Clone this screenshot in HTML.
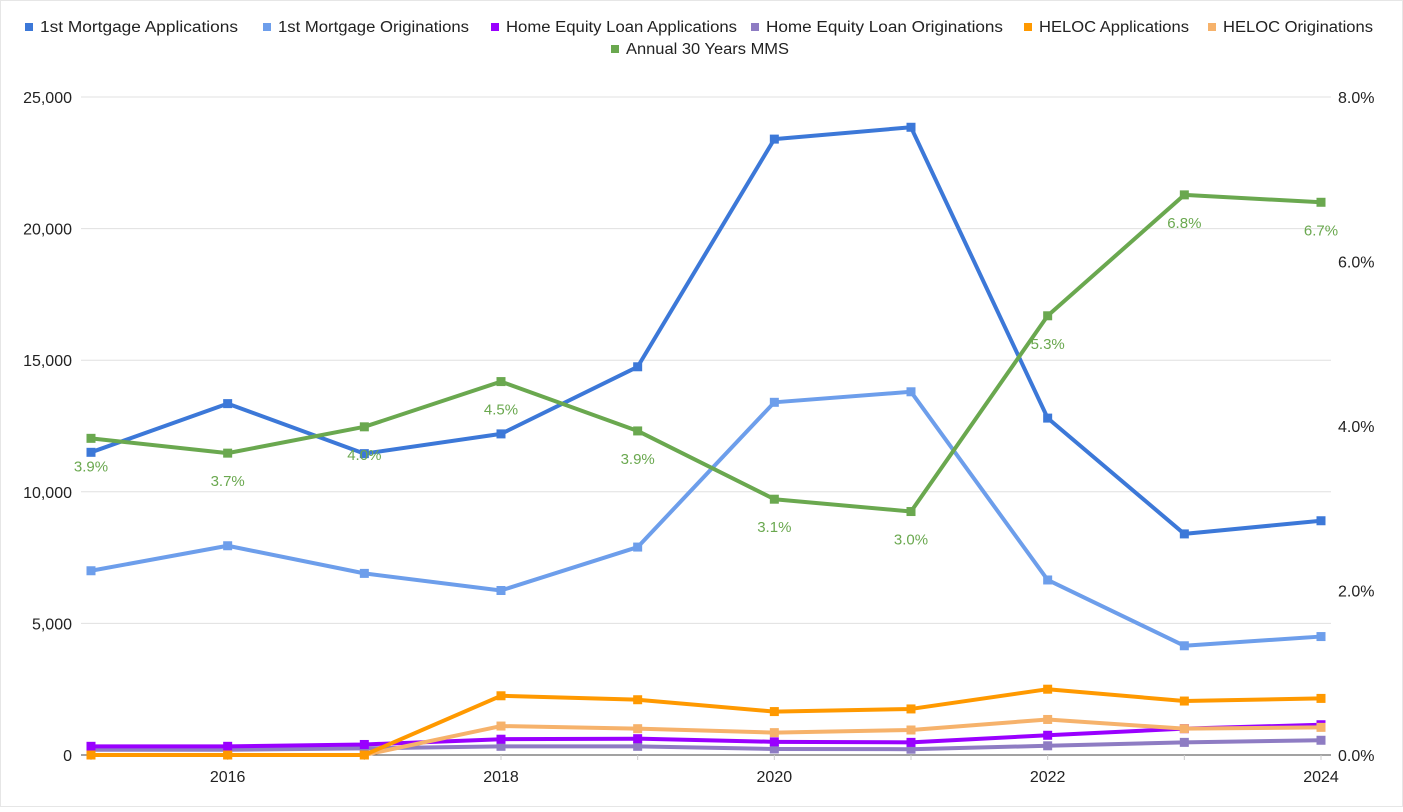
<!DOCTYPE html>
<html><head><meta charset="utf-8">
<style>
html,body{margin:0;padding:0;background:#fff;}
body{width:1403px;height:807px;overflow:hidden;font-family:"Liberation Sans",Arial,sans-serif;}
svg text{font-family:"Liberation Sans",Arial,sans-serif;}
</style></head>
<body>
<svg id="chart" width="1403" height="807" viewBox="0 0 1403 807" xmlns="http://www.w3.org/2000/svg">
<rect x="0.5" y="0.5" width="1402" height="806" fill="#fff" stroke="#e6e6e6"/>
<g id="grid"></g>
<g id="axes"></g>
<g id="series"></g>
<g id="legend"></g>
</svg>
<script>
const years = [2015,2016,2017,2018,2019,2020,2021,2022,2023,2024];
const mortgageApps = [11500,13350,11450,12200,14750,23400,23850,12800,8400,8900];
const mortgageOrig = [7000,7950,6900,6250,7900,13400,13800,6650,4150,4500];
const heApps = [330,330,400,600,620,500,480,750,1000,1150];
const heOrig = [200,200,250,330,330,230,220,350,480,560];
const helocApps = [0,0,0,2250,2100,1650,1750,2500,2050,2150];
const helocOrig = [0,0,0,1100,1000,850,950,1350,1000,1050];
const mms = [3.85,3.67,3.99,4.54,3.94,3.11,2.96,5.34,6.81,6.72];
const leftTicks = [0,5000,10000,15000,20000,25000];
const rightTicks = [0,2,4,6,8];
const xTickLabels = [2016,2018,2020,2022,2024];

const NS="http://www.w3.org/2000/svg";
const X0=91,X1=1321,Y0=755,Y1=97;
const xs=y=>X0+(y-2015)/(2024-2015)*(X1-X0);
const yl=v=>Y0-v/25000*(Y0-Y1);
const yr=v=>Y0-v/8*(Y0-Y1);
function mk(tag,attrs,parent,text){const e=document.createElementNS(NS,tag);for(const k in attrs)e.setAttribute(k,attrs[k]);if(text!==undefined)e.textContent=text;parent.appendChild(e);return e;}
const grid=document.getElementById('grid'),axes=document.getElementById('axes'),ser=document.getElementById('series'),leg=document.getElementById('legend');

leftTicks.forEach(t=>{
  if(t>0){const l=mk('line',{x1:X0-10,x2:X1+10,y1:yl(t),y2:yl(t),stroke:'#e0e0e0','stroke-width':1},grid);
  
  }
  const tx=mk('text',{x:72,y:yl(t)+6,'text-anchor':'end','font-size':16,fill:'#222'},axes,t.toLocaleString('en-US'));
  
  
});
rightTicks.forEach(t=>{
  const tx=mk('text',{x:1338,y:yr(t)+6,'text-anchor':'start','font-size':16,fill:'#222'},axes,t.toFixed(1)+'%');
  
  
});
const base=mk('line',{x1:X0-10,x2:X1+10,y1:Y0,y2:Y0,stroke:'#444','stroke-width':1},axes);


years.forEach(y=>{
  const tk=mk('line',{x1:xs(y),x2:xs(y),y1:Y0,y2:Y0+5,stroke:'#ccc','stroke-width':1},axes);
  
  
});
xTickLabels.forEach(y=>{
  const tx=mk('text',{x:xs(y),y:Y0+27,'text-anchor':'middle','font-size':16,fill:'#222'},axes,String(y));
  
  
});

function drawSeries(vals,yf,color,name){
  const g=mk('g',{},ser);
  
  
  const pts=vals.map((v,i)=>xs(years[i])+','+yf(v)).join(' ');
  mk('polyline',{points:pts,fill:'none',stroke:color,'stroke-width':4,'stroke-linejoin':'round'},g);
  vals.forEach((v,i)=>{
    const r=mk('rect',{x:xs(years[i])-4.5,y:yf(v)-4.5,width:9,height:9,fill:color},g);
    
    
  });
  return g;
}
drawSeries(heOrig,yl,'#8e7cc3','home-equity-originations');
drawSeries(heApps,yl,'#9900ff','home-equity-applications');
drawSeries(helocOrig,yl,'#f6b26b','heloc-originations');
drawSeries(helocApps,yl,'#ff9900','heloc-applications');
drawSeries(mortgageOrig,yl,'#6d9eeb','mortgage-originations');
drawSeries(mortgageApps,yl,'#3c78d8','mortgage-applications');
const mg=drawSeries(mms,yr,'#6aa84f','mms-rate');
mms.forEach((v,i)=>{
  const tx=mk('text',{x:xs(years[i]),y:yr(v)+33,'text-anchor':'middle','font-size':15,fill:'#6aa84f'},mg,v.toFixed(1)+'%');
  
  
});

const legendItems=[
 ['1st Mortgage Applications','#3c78d8',25,32,198],
 ['1st Mortgage Originations','#6d9eeb',263,32,191],
 ['Home Equity Loan Applications','#9900ff',491,32,231],
 ['Home Equity Loan Originations','#8e7cc3',751,32,237],
 ['HELOC Applications','#ff9900',1024,32,150],
 ['HELOC Originations','#f6b26b',1208,32,150],
 ['Annual 30 Years MMS','#6aa84f',611,54,163]
];
legendItems.forEach(([label,c,x,y,w])=>{
  const g=mk('g',{},leg);
  
  
  mk('rect',{x:x,y:y-9,width:8,height:8,fill:c},g);
  mk('text',{x:x+15,y:y,'font-size':15.5,fill:'#222',textLength:w,lengthAdjust:'spacingAndGlyphs'},g,label);
});
</script>
</body></html>
